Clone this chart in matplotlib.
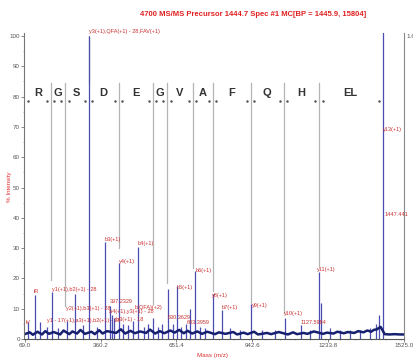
import numpy as np
import matplotlib
matplotlib.use("Agg")
from matplotlib import pyplot as plt
from matplotlib.ticker import MultipleLocator, FixedLocator

plt.rcParams['font.family'] = ['Liberation Sans', 'DejaVu Sans']

# main peaks (m/z, % intensity)
peak_mz = [80, 107, 127, 154, 173, 196, 230, 261, 292, 315, 346, 376, 396, 404, 412,
           430, 445, 465, 484, 503, 526, 542, 561, 580, 595, 618, 638, 653, 670, 688,
           703, 722, 741, 760, 791, 826, 857, 895, 937, 980, 1030, 1068, 1129, 1164,
           1199, 1206, 1241, 1279, 1318, 1356, 1394, 1417, 1429, 1444]
peak_int = [5.5, 14.5, 5.5, 4, 15.5, 3.5, 6, 15, 4.5, 100, 4, 32, 11, 8, 7,
            25, 5, 4.5, 6, 30.5, 4, 5, 7, 4, 5, 16.5, 5, 17.5, 4, 5,
            10, 22.5, 4, 3.5, 15, 9.5, 3.5, 3, 11.5, 3, 3, 7, 4.5, 3,
            22, 12, 3.5, 3, 3, 3, 3.5, 5, 8, 115]

# baseline noise (m/z, % intensity)
noise_mz = [69, 88, 100, 118, 135, 148, 162, 180, 205, 218, 240, 252, 270, 283, 300,
            325, 338, 355, 368, 385, 420, 438, 455, 475, 492, 512, 535, 550, 570, 588,
            605, 628, 645, 662, 680, 695, 712, 732, 750, 770, 800, 815, 840, 870, 885,
            910, 925, 950, 965, 1000, 1015, 1045, 1080, 1100, 1115, 1140, 1155, 1180, 1215,
            1230, 1255, 1270, 1295, 1310, 1335, 1350, 1370, 1385, 1400, 1410, 1422, 1436,
            1452, 1470, 1490, 1510, 1525]
noise_int = [1.6, 2.2, 1.4, 2.4, 1.5, 2.6, 1.7, 2.3, 1.5, 2.8, 1.6, 2.5, 1.8, 3.0, 1.7,
             2.4, 1.6, 2.9, 1.8, 2.6, 2.0, 3.2, 1.8, 2.7, 1.9, 2.5, 2.0, 3.1, 1.8, 2.6,
             1.9, 2.8, 2.1, 3.0, 1.9, 2.7, 1.8, 2.5, 1.7, 2.4, 1.6, 2.2, 1.7, 2.3, 1.5,
             2.1, 1.6, 2.4, 1.5, 2.0, 1.6, 2.3, 1.5, 2.2, 1.6, 2.0, 1.7, 2.5, 1.7,
             2.1, 1.8, 2.4, 1.9, 2.3, 2.0, 2.6, 2.2, 2.8, 2.4, 3.0, 3.2, 4.0,
             1.6, 1.5, 1.6, 1.5, 1.5]

# sequence ladder
residues = ['R', 'G', 'S', 'D', 'E', 'G', 'V', 'A', 'F', 'Q', 'H', 'EL']
seq_bounds = [69, 169, 223, 315, 430, 561, 615, 714, 791, 937, 1064, 1199, 1444]
line_bottom = [None, 19.5, 11, 100, 30, 11.5, 18.5, 23.5, 16, 12, 8.5, 24, None]

# peak annotations (text, m/z of left edge, % height)
ann_text = ['iV', 'iR', 'y1(+1),b2(+1) - 28', 'y2(+1),b3(+1) - 28',
            'y1 - 17(+1),a3(+1),b2(+1) - 18', '397.2329', 'a4(+1),y3(+1) - 28',
            'b3(+1) - 18', 'y3(+1),QFA(+1) - 28,FAV(+1)', 'b3(+1)', 'y4(+1)', 'b4(+1)',
            'b(QFA)(+2)', '630.3629', '683.3959', 'b5(+1)', 'b6(+1)', 'y8(+1)', 'b7(+1)',
            'y9(+1)', 'y10(+1)', '1127.5984', 'y11(+1)', 'y13(+1)', '1447.441']
ann_mz = [72, 104, 173, 227, 154, 396, 392, 420, 315, 376, 430, 503,
          492, 618, 692, 653, 726, 788, 826, 941, 1064, 1129, 1191, 1446, 1450]
ann_y = [5.3, 15.8, 16.5, 10.0, 6.0, 12.5, 9.0, 6.6, 101.5, 33.0, 25.7, 31.4,
         10.4, 7.0, 5.6, 17.0, 22.5, 14.5, 10.5, 11.2, 8.3, 5.6, 23.0, 69.0, 41.0]

fig = plt.figure(figsize=(4.14, 3.58), dpi=100)
ax = fig.add_axes([24 / 414, 19 / 358, 380 / 414, 306 / 358])
ax.set_xlim(66, 1526)
ax.set_ylim(0, 101)

# gray ladder lines
for b, bot in zip(seq_bounds, line_bottom):
    if bot is None:
        continue
    ax.plot([b, b], [bot, 84.5], color='#b4b4b4', lw=0.9, zorder=1)

# letters and dots
for i, r in enumerate(residues):
    mid = (seq_bounds[i] + seq_bounds[i + 1]) / 2
    ax.text(mid, 81.2, r, ha='center', va='center', fontsize=8, fontweight='bold',
            color='#333333', zorder=3)
dots = []
for b in seq_bounds:
    dots += [b - 14, b + 14]
dots = [d for d in dots if 70 < d < 1440]
ax.plot(dots, [78.4] * len(dots), ls='none', marker='.', ms=1.6, color='#555555', zorder=3)

# spectrum
ax.vlines(peak_mz, 0, peak_int, color='#4b4bb4', lw=0.9, zorder=2)
ax.plot(noise_mz, noise_int, color='#16206e', lw=1.8, zorder=2)

for t, x, y in zip(ann_text, ann_mz, ann_y):
    ax.text(x, y, t, fontsize=4, color='#c83030', ha='left', va='center', zorder=4,
            clip_on=False)

ax.spines['top'].set_visible(False)
ax.spines['right'].set_color('#888888')
ax.spines['right'].set_linewidth(0.8)
ax.spines['left'].set_color('#777777')
ax.spines['left'].set_linewidth(0.8)
ax.spines['bottom'].set_color('#555555')

xt = [69.0, 360.2, 651.4, 942.6, 1233.8, 1525.0]
ax.xaxis.set_major_locator(FixedLocator(xt))
ax.set_xticklabels(['%.1f' % v for v in xt])
ax.xaxis.set_minor_locator(MultipleLocator(291.2 / 5))
ax.yaxis.set_major_locator(MultipleLocator(10))
ax.yaxis.set_minor_locator(MultipleLocator(5))
ax.tick_params(axis='both', which='major', labelsize=4.5, length=2, width=0.5,
               colors='#555555', pad=1)
ax.tick_params(axis='both', which='minor', length=1, width=0.4, colors='#777777')

# right intensity axis, cut off by the figure edge as in the original
ax2 = ax.twinx()
ax2.set_ylim(0, 16000 * 101 / 100)
ax2.yaxis.set_major_locator(FixedLocator([16000]))
ax2.set_yticklabels(['1.6E+4'])
ax2.tick_params(axis='y', labelsize=4.5, length=0, pad=2, colors='#555555')
for s in ['top', 'left', 'bottom', 'right']:
    ax2.spines[s].set_visible(False)

fig.text(253 / 414, 1 - 14 / 358, '4700 MS/MS Precursor 1444.7 Spec #1 MC[BP = 1445.9, 15804]',
         ha='center', va='center', fontsize=5.5, fontweight='bold', color='#e02020')
fig.text(10 / 414, 1 - 187 / 358, '% Intensity', rotation=90, ha='center', va='center',
         fontsize=4.5, color='#e03030')
fig.text(213 / 414, 1 - 355 / 358, 'Mass (m/z)', ha='center', va='center',
         fontsize=4.5, color='#e03030')

fig.savefig('out.png', dpi=100)
